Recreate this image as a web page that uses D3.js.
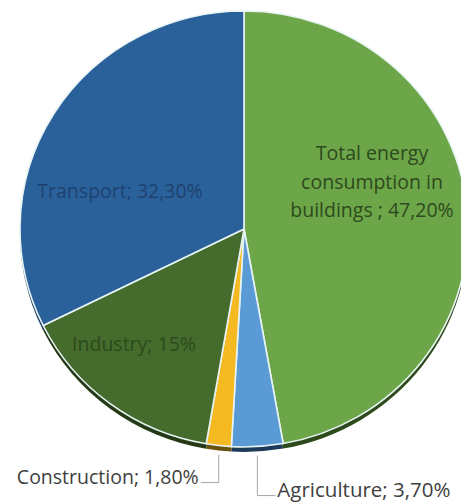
<!DOCTYPE html>
<html>
<head>
<meta charset="utf-8">
<script src="https://cdn.jsdelivr.net/npm/d3@7"></script>
<style>
  body { margin: 0; background: #fff; }
  svg { display: block; }
</style>
</head>
<body>
<script>
// data
var categories = ["Total energy consumption in buildings ", "Agriculture", "Construction", "Industry", "Transport"]
var values = [47.2, 3.7, 1.8, 15, 32.3]
var valueLabels = ["47,20%", "3,70%", "1,80%", "15%", "32,30%"]
var colors = ["#6ca648", "#5b9bd5", "#f5b922", "#466c2d", "#2a619a"]
var rimColors = ["#2d4a1b", "#1d3a5a", "#6b5210", "#243a16", "#183a5e"]
var textColors = ["#2e4a1e", "#404040", "#404040", "#2c4a1c", "#1e4270"]

var W = 461, H = 503
var cx = 244, cy = 229, R = 224, squash = 0.973

var svg = d3.select("body").append("svg")
  .attr("width", W).attr("height", H)

var pie = d3.pie().sort(null).value(d => d)
var arcs = pie(values)
var arc = d3.arc().innerRadius(0).outerRadius(R)

// rim (thickness of the disc)
var rim = svg.append("g")
  .attr("transform", "translate(" + cx + "," + (cy + 5) + ") scale(1," + squash + ")")
rim.selectAll("path").data(arcs).enter().append("path")
  .attr("d", arc)
  .attr("fill", (d, i) => rimColors[i])

// slices
var g = svg.append("g")
  .attr("transform", "translate(" + cx + "," + cy + ") scale(1," + squash + ")")
g.selectAll("path").data(arcs).enter().append("path")
  .attr("d", arc)
  .attr("fill", (d, i) => colors[i])
  .attr("stroke", "#e8f4f4")
  .attr("stroke-width", 1.6)
  .attr("stroke-linejoin", "round")

function pt(angle, r){
  return [cx + Math.sin(angle) * r, cy - Math.cos(angle) * r * squash]
}

// labels inside slices (Excel best fit spots)
var inside = {
  0: {x: 372, y: 160, lines: ["Total energy", "consumption in", "buildings ; 47,20%"]},
  3: {x: 134, y: 351, lines: ["Industry; 15%"]},
  4: {x: 120, y: 198, lines: ["Transport; 32,30%"]}
}

Object.keys(inside).forEach(k => {
  var o = inside[k]
  var t = svg.append("text")
    .attr("x", o.x).attr("y", o.y)
    .attr("text-anchor", "middle")
    .attr("font-family", "Open Sans, sans-serif")
    .attr("font-size", 19.5)
    .attr("fill", textColors[k])
  o.lines.forEach((l, j) => {
    t.append("tspan").attr("x", o.x)
      .attr("dy", j == 0 ? 0 : 28.5)
      .text(l)
  })
})

// outside labels with leader lines
function leader(i, side, drop, len, fs){
  var a = arcs[i]
  var mid = (a.startAngle + a.endAngle) / 2
  var p = pt(mid, R)
  var y0 = p[1] + 9, y1 = p[1] + drop
  var x1 = p[0] + side * len
  svg.append("path")
    .attr("d", "M" + p[0] + "," + y0 + "V" + y1 + "H" + x1)
    .attr("fill", "none").attr("stroke", "#a6a6a6").attr("stroke-width", 1)
  svg.append("text")
    .attr("x", x1 + side * 2).attr("y", y1 + 1)
    .attr("text-anchor", side < 0 ? "end" : "start")
    .attr("font-family", "Open Sans, sans-serif")
    .attr("font-size", fs)
    .attr("fill", textColors[i])
    .text(categories[i] + "; " + valueLabels[i])
}
leader(2, -1, 37, 18, 19.5)
leader(1, 1, 49, 18, 20.5)
</script>
</body>
</html>
